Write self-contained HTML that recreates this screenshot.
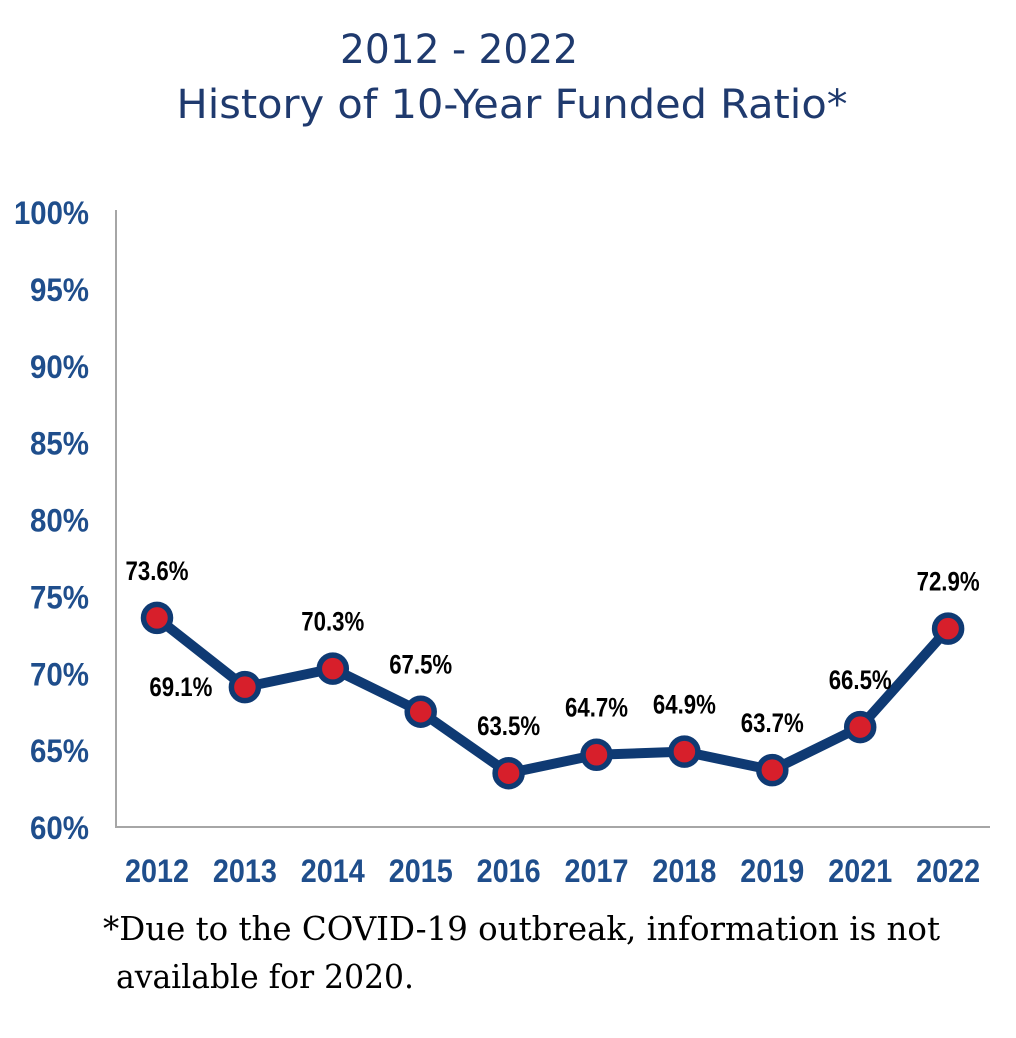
<!DOCTYPE html>
<html><head><meta charset="utf-8"><style>
body{margin:0;background:#fff;width:1016px;height:1038px;overflow:hidden}
svg{display:block}
</style></head><body>
<svg width="1016" height="1038">
<text x="459" y="63" text-anchor="middle" font-family="'DejaVu Sans',sans-serif" font-size="40" fill="#1f3a6e" textLength="238" lengthAdjust="spacingAndGlyphs">2012 - 2022</text>
<text x="512" y="118" text-anchor="middle" font-family="'DejaVu Sans',sans-serif" font-size="40" fill="#1f3a6e" textLength="671" lengthAdjust="spacingAndGlyphs">History of 10-Year Funded Ratio*</text>
<line x1="116" y1="210" x2="116" y2="828" stroke="#a6a6a6" stroke-width="2"/>
<line x1="115" y1="827" x2="990" y2="827" stroke="#a6a6a6" stroke-width="2"/>
<g id="yt"></g><g id="xt"></g><g id="series"></g><g id="labels"></g>
<text x="103" y="940" font-family="'DejaVu Serif','Liberation Serif',serif" font-size="33" fill="#000" textLength="837" lengthAdjust="spacingAndGlyphs">*Due to the COVID-19 outbreak, information is not</text>
<text x="116" y="988" font-family="'DejaVu Serif','Liberation Serif',serif" font-size="33" fill="#000" textLength="298" lengthAdjust="spacingAndGlyphs">available for 2020.</text>
</svg>
<script>
const categories=["2012","2013","2014","2015","2016","2017","2018","2019","2021","2022"];
const values=[73.6,69.1,70.3,67.5,63.5,64.7,64.9,63.7,66.5,72.9];
const valueLabels=["73.6%","69.1%","70.3%","67.5%","63.5%","64.7%","64.9%","63.7%","66.5%","72.9%"];
const yTicks=[60,65,70,75,80,85,90,95,100];
const NS="http://www.w3.org/2000/svg";
const y=v=>827-(v-60)*(615/40);
const x=i=>157+i*87.9;
function mk(t,a,p){const e=document.createElementNS(NS,t);for(const k in a)e.setAttribute(k,a[k]);document.getElementById(p).appendChild(e);return e;}
yTicks.forEach(v=>{const s=v+"%";const t=mk("text",{x:89,y:y(v)+12,"text-anchor":"end","font-family":"Liberation Sans,sans-serif","font-weight":"bold","font-size":"32",fill:"#1f4e8c",textLength:(s.length-1)*16+27,lengthAdjust:"spacingAndGlyphs"},"yt");t.textContent=s;

});
categories.forEach((c,i)=>{const t=mk("text",{x:x(i),y:882,"text-anchor":"middle","font-family":"Liberation Sans,sans-serif","font-weight":"bold","font-size":"32",fill:"#1f4e8c",textLength:64,lengthAdjust:"spacingAndGlyphs"},"xt");t.textContent=c;

});
const pl=mk("polyline",{points:values.map((v,i)=>x(i)+","+y(v)).join(" "),fill:"none",stroke:"#0f3a73","stroke-width":"10","stroke-linejoin":"round"},"series");


values.forEach((v,i)=>{const c=mk("circle",{cx:x(i),cy:y(v),r:13.5,fill:"#d71f2b",stroke:"#0f3a73","stroke-width":"5.5"},"series");


let lx=x(i),ly=y(v)-38;
if(i===1){lx=x(i)-64;ly=y(v)+9;}
const t=mk("text",{x:lx,y:ly,"text-anchor":"middle","font-family":"Liberation Sans,sans-serif","font-weight":"bold","font-size":"27",fill:"#000",textLength:63,lengthAdjust:"spacingAndGlyphs"},"labels");t.textContent=valueLabels[i];

});
</script>
</body></html>
